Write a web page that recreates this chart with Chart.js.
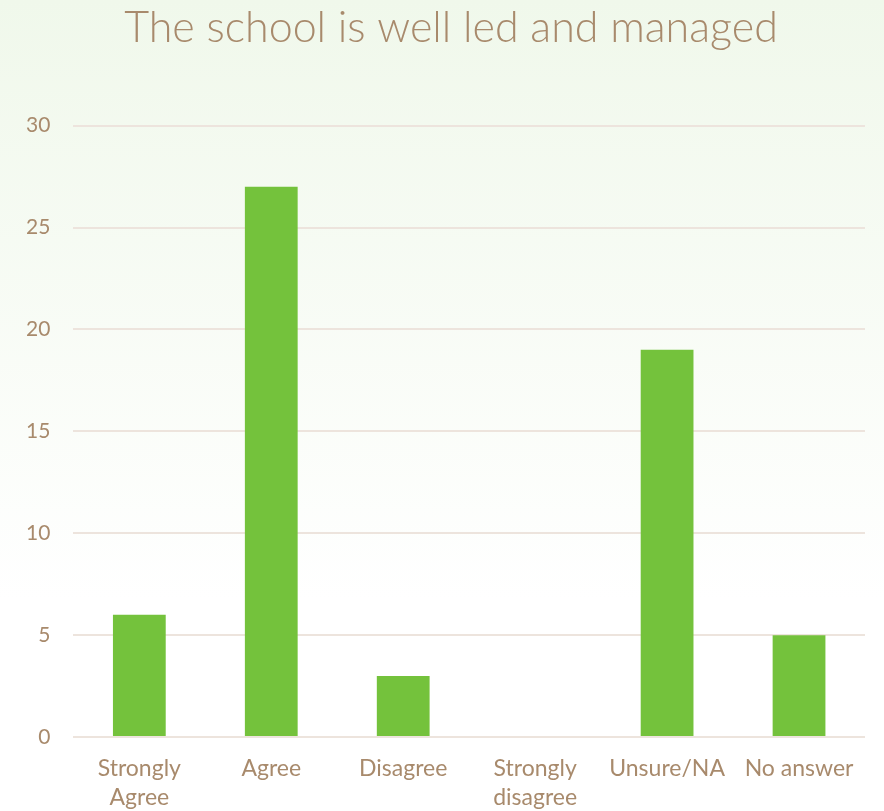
<!DOCTYPE html>
<html>
<head>
<meta charset="utf-8">
<script src="https://cdn.jsdelivr.net/npm/chart.js@4/dist/chart.umd.min.js"></script>
<style>
  html, body { margin: 0; padding: 0; background: #fff; }
  #wrap { width: 884px; height: 811px; }
</style>
</head>
<body>
<div id="wrap"><canvas id="grafico" width="884" height="811"></canvas></div>
<script>
const categorias = [['Strongly', 'Agree'], 'Agree', 'Disagree', ['Strongly', 'disagree'], 'Unsure/NA', 'No answer']
const respostas = [6, 27, 3, 0, 19, 5]
const ticksY = [0, 5, 10, 15, 20, 25, 30]

const corTexto = '#a88a6c'
const fonte = "'Lato', 'Open Sans', sans-serif"

// fundo verde claro que some para branco
const fundo = {
  id: 'fundo',
  beforeDraw(chart) {
    const ctx = chart.ctx
    const g = ctx.createLinearGradient(0, 0, 0, 600)
    g.addColorStop(0, '#f0f8eb')
    g.addColorStop(1, '#ffffff')
    ctx.save()
    ctx.fillStyle = g
    ctx.fillRect(0, 0, chart.width, chart.height)
    ctx.restore()
  },
  // o titulo original fica um pouco a direita do centro
  afterLayout(chart) {
    if (chart.titleBlock) chart.titleBlock.left += 34
  }
}

const grafico = new Chart(document.getElementById('grafico'), {
  type: 'bar',
  data: {
    labels: categorias,
    datasets: [{
      data: respostas,
      backgroundColor: '#74c23c',
      barPercentage: 0.4,
      categoryPercentage: 1
    }]
  },
  options: {
    responsive: false,
    animation: false,
    layout: { padding: { left: 3, right: 19, top: 0, bottom: -10 } },
    plugins: {
      legend: { display: false },
      tooltip: { enabled: false },
      title: {
        display: true,
        text: 'The school is well led and managed',
        color: corTexto,
        font: { family: fonte, size: 43, weight: '300' },
        padding: { top: 2, bottom: 72 }
      }
    },
    scales: {
      y: {
        min: 0,
        max: 30,
        afterBuildTicks(axis) { axis.ticks = ticksY.map(v => ({ value: v })) },
        ticks: { color: corTexto, font: { family: fonte, size: 21 }, padding: 23 },
        grid: { color: '#ede4dd', lineWidth: 2, drawTicks: false },
        border: { display: false }
      },
      x: {
        ticks: { color: corTexto, font: { family: fonte, size: 23, lineHeight: 1.26 }, maxRotation: 0, autoSkip: false, padding: 9 },
        grid: { display: false },
        border: { display: false }
      }
    }
  },
  plugins: [fundo]
})
</script>
</body>
</html>
